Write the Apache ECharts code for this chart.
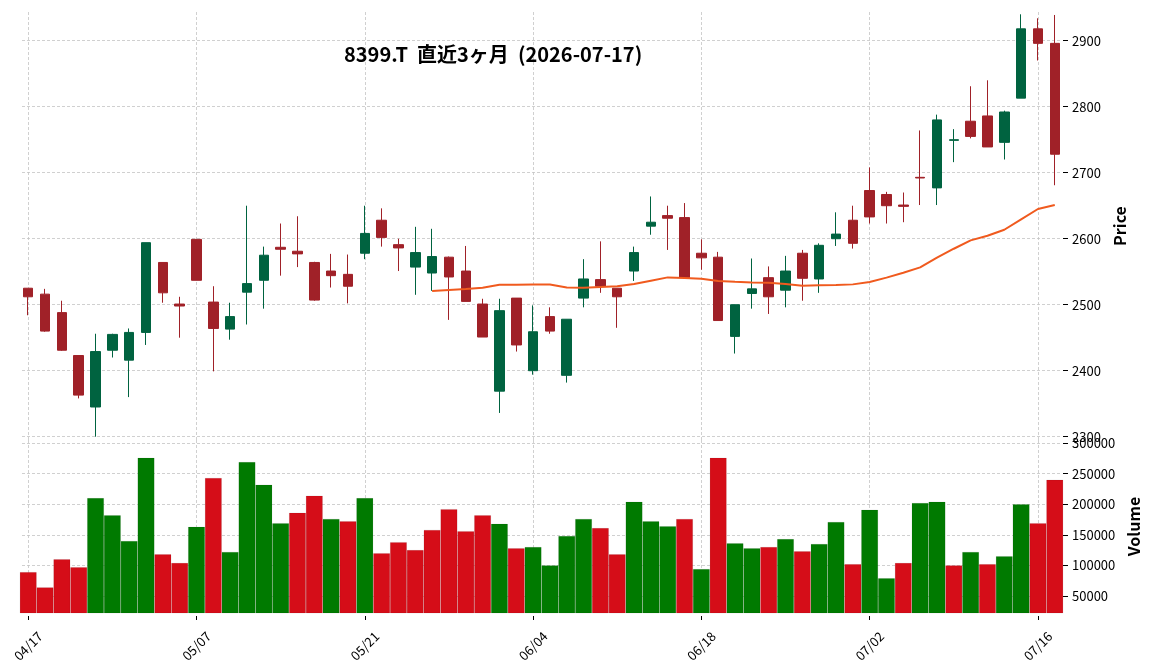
<!DOCTYPE html>
<html><head><meta charset="utf-8">
<script src="https://cdn.jsdelivr.net/npm/echarts@6/dist/echarts.min.js"></script>
<style>html,body{margin:0;padding:0;background:#fff}#c{width:1152px;height:670px}</style>
</head><body><div id="c"></div>
<script>
const dates = ['04/17','04/20','04/21','04/22','04/23','04/24','04/27','04/28','04/30','05/01',
  '05/07','05/08','05/11','05/12','05/13','05/14','05/15','05/18','05/19','05/20',
  '05/21','05/22','05/25','05/26','05/27','05/28','05/29','06/01','06/02','06/03',
  '06/04','06/05','06/08','06/09','06/10','06/11','06/12','06/15','06/16','06/17',
  '06/18','06/19','06/22','06/23','06/24','06/25','06/26','06/29','06/30','07/01',
  '07/02','07/03','07/06','07/07','07/08','07/09','07/10','07/13','07/14','07/15',
  '07/16','07/17'];
const opens = [2525,2516,2488,2423,2345,2431,2416,2458,2564,2501,
  2599,2504,2463,2519,2537,2587,2581,2564,2551,2546,
  2578,2628,2591,2557,2548,2572,2551,2501,2369,2510,
  2400,2482,2393,2510,2538,2525,2551,2619,2635,2632,
  2578,2572,2452,2517,2541,2522,2578,2539,2600,2628,
  2673,2667,2651,2693,2677,2749,2778,2786,2746,2813,
  2918,2896];
const highs = [2525,2524,2506,2423,2456,2456,2464,2594,2564,2512,
  2599,2528,2503,2650,2588,2623,2634,2565,2577,2576,
  2650,2646,2600,2618,2615,2573,2589,2509,2509,2510,
  2499,2496,2478,2569,2596,2525,2588,2664,2650,2654,
  2599,2580,2500,2570,2558,2574,2583,2593,2640,2650,
  2708,2671,2670,2764,2788,2766,2831,2840,2794,2940,
  2934,2939];
const lows = [2484,2459,2430,2358,2300,2420,2360,2439,2503,2450,
  2537,2399,2447,2470,2494,2544,2557,2506,2526,2502,
  2569,2588,2551,2515,2521,2477,2505,2451,2336,2429,
  2394,2456,2382,2496,2518,2465,2536,2606,2583,2541,
  2553,2476,2426,2494,2486,2496,2506,2518,2589,2585,
  2623,2623,2625,2651,2651,2716,2752,2739,2720,2813,
  2870,2681];
const closes = [2512,2460,2431,2363,2429,2455,2458,2594,2518,2498,
  2537,2464,2482,2532,2575,2584,2577,2507,2544,2528,
  2608,2602,2586,2579,2573,2542,2505,2451,2491,2439,
  2459,2460,2478,2539,2528,2512,2579,2625,2631,2541,
  2571,2476,2500,2524,2512,2551,2540,2590,2607,2593,
  2633,2650,2649,2692,2780,2750,2755,2739,2792,2918,
  2896,2728];
const volumes = [89000,64000,110000,97000,210000,182000,140000,276000,118000,104000,
  163000,243000,122000,269000,232000,169000,186000,214000,176000,172000,
  210000,120000,138000,125000,158000,192000,156000,182000,168000,128000,
  130000,100000,148000,176000,161000,118000,204000,172000,164000,176000,
  94000,276000,136000,128000,130000,143000,123000,135000,171000,102000,
  191000,79000,104000,202000,204000,100000,122000,102000,115000,200000,
  169000,240000];
const ma25 = [null,null,null,null,null,null,null,null,null,null,
  null,null,null,null,null,null,null,null,null,null,
  null,null,null,null,2520.7,2522.2,2523.7,2525.8,2530.3,2530.3,
  2530.5,2530.5,2526,2525.8,2526.8,2527.8,2531.3,2536.4,2541.4,2540.4,
  2539.4,2535.9,2534.8,2533.8,2533.3,2531.3,2528.8,2529.3,2529.8,2530.8,
  2534.3,2541,2548.5,2556.6,2571.2,2584.8,2597.5,2604.5,2613.6,2629.3,
  2645,2651];
const priceTicks = [2300,2400,2500,2600,2700,2800,2900];
const volumeTicks = [50000,100000,150000,200000,250000,300000];
const dateTickIdx = [0,10,20,30,40,50,60];
const titleText = '8399.T  直近3ヶ月  (2026-07-17)';

const FONT = "'Noto Sans CJK JP', 'Noto Sans', sans-serif";
const UP = '#006340', DOWN = '#A02128';
const VUP = '#007a00', VDOWN = '#d50d18';
const gridLine = {show: true, lineStyle: {color: '#c4c4c4', width: 0.8, type: [3, 2]}};

const candleData = dates.map((d, i) => [i, opens[i], closes[i], lows[i], highs[i]]);
const volData = volumes.map((v, i) => ({
  value: [i, v],
  itemStyle: {color: (i > 0 && closes[i] > closes[i - 1]) ? VUP : VDOWN}
}));
const maData = ma25.map((v, i) => [i, v]).filter(p => p[1] !== null);

const chart = echarts.init(document.getElementById('c'), null, {renderer: 'canvas'});
const xCommon = {
  type: 'value', min: -0.37, max: 61.37,
  axisLine: {show: false, onZero: false},
  splitLine: gridLine
};
const plain = v => String(Math.round(v));
chart.setOption({
  animation: false,
  backgroundColor: '#fff',
  title: {
    text: titleText, left: 339, top: 39,
    textStyle: {fontFamily: FONT, fontSize: 20, fontWeight: 'bold', color: '#000'}
  },
  grid: [
    {left: 22, right: 91, top: 12, height: 428},
    {left: 22, right: 91, top: 440, height: 173}
  ],
  xAxis: [
    Object.assign({}, xCommon, {
      gridIndex: 0,
      axisTick: {show: false, customValues: dateTickIdx},
      axisLabel: {show: false, customValues: dateTickIdx}
    }),
    Object.assign({}, xCommon, {
      gridIndex: 1, offset: 3,
      axisTick: {show: true, length: 4, customValues: dateTickIdx, lineStyle: {color: '#000', width: 1}},
      axisLabel: {
        show: true, customValues: dateTickIdx, rotate: 45, margin: 30,
        align: 'center', verticalAlign: 'middle',
        fontFamily: FONT, fontSize: 13, color: '#000',
        formatter: v => dates[Math.round(v)]
      }
    })
  ],
  yAxis: [
    {
      type: 'value', gridIndex: 0, position: 'right', min: 2295, max: 2943.5, offset: 2,
      axisLine: {show: false, onZero: false},
      axisTick: {show: true, length: 5, customValues: priceTicks, lineStyle: {color: '#000'}},
      axisLabel: {customValues: priceTicks, fontFamily: FONT, fontSize: 13, color: '#000', margin: 9, formatter: plain},
      splitLine: gridLine,
      name: 'Price', nameLocation: 'middle', nameRotate: 90, nameGap: 43,
      nameTextStyle: {fontFamily: FONT, fontSize: 16, fontWeight: 'bold', color: '#000'}
    },
    {
      type: 'value', gridIndex: 1, position: 'right', min: 22000, max: 305000, offset: 2,
      axisLine: {show: false, onZero: false},
      axisTick: {show: true, length: 5, customValues: volumeTicks, lineStyle: {color: '#000'}},
      axisLabel: {customValues: volumeTicks, fontFamily: FONT, fontSize: 13, color: '#000', margin: 9, formatter: plain},
      splitLine: gridLine,
      name: 'Volume', nameLocation: 'middle', nameRotate: 90, nameGap: 58,
      nameTextStyle: {fontFamily: FONT, fontSize: 16, fontWeight: 'bold', color: '#000'}
    }
  ],
  series: [
    {
      type: 'bar', xAxisIndex: 1, yAxisIndex: 1, data: volData, barWidth: 16.9,
      itemStyle: {borderColor: 'rgba(0,0,0,0.12)', borderWidth: 0.6}
    },
    {
      type: 'candlestick', xAxisIndex: 0, yAxisIndex: 0, data: candleData,
      encode: {x: 0, y: [1, 2, 3, 4]}, barWidth: 10,
      itemStyle: {color: UP, color0: DOWN, borderColor: UP, borderColor0: DOWN, borderWidth: 1}
    },
    {
      type: 'line', xAxisIndex: 0, yAxisIndex: 0, data: maData, showSymbol: false,
      lineStyle: {color: '#F05A1E', width: 2}, z: 5
    }
  ]
});
</script></body></html>
